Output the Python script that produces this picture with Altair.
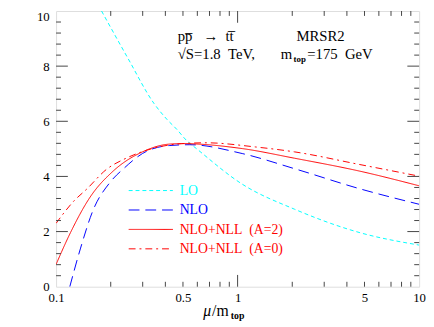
import altair as alt
import pandas as pd

# ---- data ----
series_names = ["LO", "NLO", "NLO+NLL (A=2)", "NLO+NLL (A=0)"]
series_colors = ["#00ffff", "#0000ff", "#ff0000", "#ff0000"]
series_dash = [[4, 3], [11, 6], [1, 0], [7, 4, 2, 4]]

lo_mu = [0.178, 0.248, 0.346, 0.408, 0.462, 0.524, 0.593, 1.06, 2.06, 4.72, 10.0]
lo_sig = [10.0, 8.30, 6.65, 6.07, 5.71, 5.30, 5.01, 3.72, 2.81, 1.96, 1.51]

nlo_mu = [0.119, 0.136, 0.160, 0.198, 0.238, 0.299, 0.420, 0.546, 1.06, 2.06, 4.72, 10.0]
nlo_sig = [0.0, 1.37, 2.78, 3.78, 4.31, 4.83, 5.12, 5.15, 4.83, 4.28, 3.55, 2.99]

a2_mu = [0.100, 0.120, 0.154, 0.206, 0.299, 0.417, 0.493, 1.06, 2.06, 4.72, 10.0]
a2_sig = [0.81, 1.96, 3.25, 4.19, 4.89, 5.17, 5.19, 5.01, 4.66, 4.19, 3.66]

a0_mu = [0.100, 0.125, 0.148, 0.189, 0.243, 0.299, 0.493, 0.671, 1.25, 2.06, 4.72, 10.0]
a0_sig = [2.30, 3.10, 3.55, 4.25, 4.66, 4.90, 5.19, 5.22, 5.07, 4.89, 4.43, 4.01]

x_labels = [0.1, 0.5, 1, 5, 10]
y_labels = [0, 2, 4, 6, 8, 10]
x_major_ticks = [1]
x_minor_ticks = [0.2, 0.3, 0.4, 0.5, 0.6, 0.7, 0.8, 0.9, 2, 3, 4, 5, 6, 7, 8, 9]
y_major_ticks = [2, 4, 6, 8]
y_minor_ticks = [0.4, 0.8, 1.2, 1.6, 2.4, 2.8, 3.2, 3.6, 4.4, 4.8, 5.2, 5.6,
                 6.4, 6.8, 7.2, 7.6, 8.4, 8.8, 9.2, 9.6]

rows = []
for name, xs, ys in [(series_names[0], lo_mu, lo_sig), (series_names[1], nlo_mu, nlo_sig),
                     (series_names[2], a2_mu, a2_sig), (series_names[3], a0_mu, a0_sig)]:
    for xv, yv in zip(xs, ys):
        rows.append({"mu": xv, "sigma": yv, "series": name})
df = pd.DataFrame(rows)

W, H = 370, 281
FONT = "Liberation Serif"
TICK = "#444444"
NB = "\u00a0"

xscale = alt.Scale(type="log", domain=[0.1, 10], nice=False)
yscale = alt.Scale(domain=[0, 10], nice=False, zero=False)

lines = alt.Chart(df).mark_line(strokeWidth=1, interpolate="monotone", clip=True).encode(
    x=alt.X("mu:Q", scale=xscale,
            axis=alt.Axis(values=x_labels, format="~g", ticks=False, domain=False, grid=False,
                          labelFont=FONT, labelFontSize=13, labelColor="black", labelPadding=5,
                          labelFlush=False, labelOverlap=False, title=None)),
    y=alt.Y("sigma:Q", scale=yscale,
            axis=alt.Axis(values=y_labels, format="d", ticks=False, domain=False, grid=False,
                          labelFont=FONT, labelFontSize=13, labelColor="black", labelPadding=7,
                          labelBaseline=alt.ExprRef(expr="datum.value == 10 ? 'top' : 'middle'"),
                          labelFlush=False, labelOverlap=False, title=None)),
    color=alt.Color("series:N", scale=alt.Scale(domain=series_names, range=series_colors),
                    legend=None),
    strokeDash=alt.StrokeDash("series:N", scale=alt.Scale(domain=series_names, range=series_dash),
                              legend=None),
    order=alt.Order("mu:Q"),
)

def xticks(vals, length):
    d = pd.DataFrame({"mu": vals})
    bottom = alt.Chart(d).mark_rule(color=TICK, strokeWidth=1).encode(
        x=alt.X("mu:Q", scale=xscale), y=alt.value(H), y2=alt.value(H - length))
    top = alt.Chart(d).mark_rule(color=TICK, strokeWidth=1).encode(
        x=alt.X("mu:Q", scale=xscale), y=alt.value(0), y2=alt.value(length))
    return [bottom, top]

def yticks(vals, length):
    d = pd.DataFrame({"sigma": vals})
    left = alt.Chart(d).mark_rule(color=TICK, strokeWidth=1).encode(
        y=alt.Y("sigma:Q", scale=yscale), x=alt.value(0), x2=alt.value(length))
    right = alt.Chart(d).mark_rule(color=TICK, strokeWidth=1).encode(
        y=alt.Y("sigma:Q", scale=yscale), x=alt.value(W), x2=alt.value(W - length))
    return [left, right]

one = pd.DataFrame({"k": [0]})

def label(txt, x, y, size=15, weight="normal", style="normal", color="black"):
    return alt.Chart(one).mark_text(text=txt, font=FONT, fontSize=size, fontWeight=weight,
                                    fontStyle=style, align="left", baseline="alphabetic",
                                    color=color).encode(x=alt.value(x), y=alt.value(y))

# legend (drawn as a key inside the plot, styled from the series lists)
LEG_X0, LEG_X1, LEG_TX, LEG_Y0, LEG_DY = 74, 119, 126, 183, 19.8
legend = []
for i, name in enumerate(series_names):
    yy = LEG_Y0 + i * LEG_DY
    legend.append(alt.Chart(one).mark_rule(color=series_colors[i], strokeWidth=1,
                                           strokeDash=series_dash[i]).encode(
        x=alt.value(LEG_X0), x2=alt.value(LEG_X1), y=alt.value(yy)))
    legend.append(alt.Chart(one).mark_text(text=name.replace(" ", NB + NB), font=FONT,
                                           fontSize=14, align="left", baseline="middle",
                                           color=series_colors[i]).encode(
        x=alt.value(LEG_TX), y=alt.value(yy + 0.5)))

texts = [
    label("pp\u0305" + NB * 3 + "\u2192" + NB * 2 + "tt\u0305", 124, 31),
    label("MRSR2", 245, 31),
    label("\u221aS=1.8" + NB * 2 + "TeV,", 124, 49),
    label("m", 229, 49),
    label("top", 242, 52, size=9, weight="bold"),
    label("=175" + NB * 2 + "GeV", 256, 49),
    label("\u03bc", 150, 311, size=16, style="italic"),
    label("/m", 159, 311, size=16),
    label("top", 178, 314, size=10, weight="bold"),
]

layers = [lines] + xticks(x_major_ticks, 12) + xticks(x_minor_ticks, 5) \
    + yticks(y_major_ticks, 12) + yticks(y_minor_ticks, 5) + legend + texts

chart = alt.layer(*layers).properties(
    width=W, height=H,
    autosize=alt.AutoSizeParams(type="none"),
    padding={"left": 49, "top": 0, "right": 7, "bottom": 38},
).configure_view(stroke="#444444", strokeWidth=1).configure(background="white")

chart.save("out.html", embed_options={"renderer": "svg", "actions": False})
